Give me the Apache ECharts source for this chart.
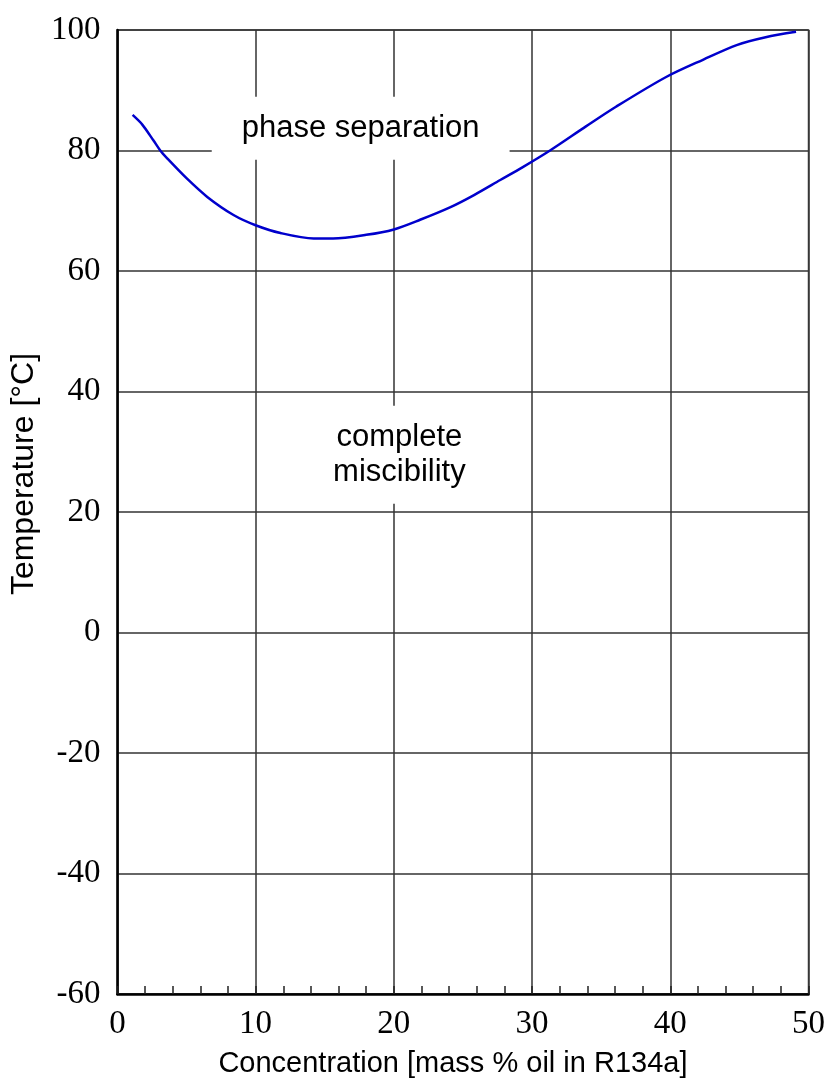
<!DOCTYPE html>
<html>
<head>
<meta charset="utf-8">
<script src="https://cdn.jsdelivr.net/npm/echarts@6/dist/echarts.min.js"></script>
<style>
  html, body { margin: 0; padding: 0; background: #fff; }
  #chart { width: 828px; height: 1084px; }
</style>
</head>
<body>
<div id="chart"></div>
<script>
// mass % oil in R134a
const concentration = [1.1, 1.8, 2.6, 3.1, 3.6, 5.0, 6.5, 8.4, 10.0, 11.8, 14.2, 15.6, 18.0, 20.0, 21.9, 24.1, 25.8, 27.7, 29.3, 31.3, 33.9, 36.1, 39.7, 42.4, 44.8, 46.9, 49.1]
// miscibility limit temperature [°C]
const temperature = [85.9, 84.3, 81.7, 80.0, 78.7, 75.4, 72.3, 69.3, 67.6, 66.3, 65.4, 65.4, 66.0, 66.9, 68.5, 70.6, 72.6, 75.1, 77.2, 80.0, 84.0, 87.3, 92.2, 95.1, 97.5, 98.8, 99.7]

const regionLabels = [
  { name: 'phase separation', x: 17.6, y: 83.7 },
  { name: 'complete\nmiscibility', x: 20.4, y: 29.5 }
]

const serif = '"Liberation Serif", "Times New Roman", serif'
const sans = '"Liberation Sans", Arial, sans-serif'

const chart = echarts.init(document.getElementById('chart'))

const option = {
  animation: false,
  grid: {
    left: 117,
    right: 19,
    top: 30,
    bottom: 90,
    show: true,
    borderColor: '#444',
    borderWidth: 1.5
  },
  xAxis: {
    type: 'value',
    min: 0,
    max: 50,
    interval: 10,
    name: 'Concentration [mass % oil in R134a]',
    nameLocation: 'middle',
    nameGap: 55,
    nameTextStyle: { fontFamily: sans, fontSize: 29, color: '#000', padding: [0, 20, 0, 0] },
    axisLine: { show: true, onZero: false, lineStyle: { color: '#000', width: 2.5 } },
    axisTick: { show: true, inside: true, length: 8, lineStyle: { color: '#222', width: 1.5 } },
    minorTick: { show: true, splitNumber: 5, length: 8, lineStyle: { color: '#222', width: 1.5 } },
    axisLabel: { fontFamily: serif, fontSize: 33, color: '#000', margin: 14 },
    splitLine: { show: true, lineStyle: { color: '#333', width: 1.5 } }
  },
  yAxis: {
    type: 'value',
    min: -60,
    max: 100,
    interval: 20,
    name: 'Temperature [°C]',
    nameLocation: 'middle',
    nameGap: 74,
    nameTextStyle: { fontFamily: sans, fontSize: 32, color: '#000', padding: [0, 0, 0, 76] },
    axisLine: { show: true, onZero: false, lineStyle: { color: '#000', width: 2.5 } },
    axisTick: { show: false },
    axisLabel: { fontFamily: serif, fontSize: 33, color: '#000', margin: 17 },
    splitLine: { show: true, lineStyle: { color: '#333', width: 1.5 } }
  },
  series: [
    {
      name: 'labels',
      type: 'scatter',
      symbolSize: 0,
      silent: true,
      z: 3,
      itemStyle: { opacity: 1 },
      data: regionLabels.map(d => ({ name: d.name, value: [d.x, d.y] })),
      label: {
        show: true,
        position: 'inside',
        formatter: p => p.name,
        fontFamily: sans,
        fontSize: 31,
        lineHeight: 35,
        color: '#000',
        opacity: 1,
        backgroundColor: '#fff',
        padding: [14, 30]
      }
    },
    {
      name: 'miscibility limit',
      type: 'line',
      z: 4,
      data: concentration.map((c, i) => [c, temperature[i]]),
      showSymbol: false,
      smooth: 0.3,
      lineStyle: { color: '#0000cc', width: 2.5 }
    }
  ]
}

chart.setOption(option)
</script>
</body>
</html>
